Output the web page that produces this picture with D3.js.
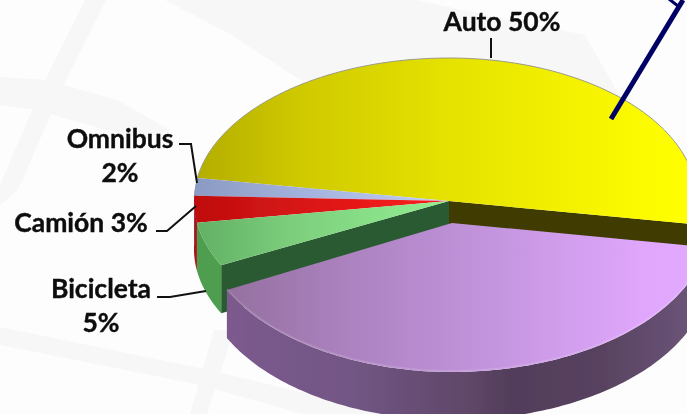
<!DOCTYPE html>
<html>
<head>
<meta charset="utf-8">
<script src="https://cdn.jsdelivr.net/npm/d3@7"></script>
<style>
  html, body { margin: 0; padding: 0; background: #fdfdfd; overflow: hidden; }
  svg { display: block; }
  text { font-family: Lato, "Open Sans", sans-serif; font-weight: 700; font-size: 26.5px; fill: #0a0a0a; stroke: #0a0a0a; stroke-width: 0.35px; }
</style>
</head>
<body>
<div id="plot"></div>
<script>
// values (the purple slice has no label in the crop)
var categories = ["Auto", "Camioneta", "Bicicleta", "Camión", "Omnibus"];
var shares = [50, 40, 5, 3, 2];
var labelLines = [["Auto 50%"], [], ["Bicicleta", "5%"], ["Camión 3%"], ["Omnibus", "2%"]];

var width = 687, height = 414;
var depth = 48;
var firstAngle = -80.7 * Math.PI / 180;

var svg = d3.select("div#plot")
  .append("svg")
    .attr("width", width)
    .attr("height", height);

var defs = svg.append("defs");

// the reference is a soft upscaled picture
defs.append("filter").attr("id", "soft")
  .attr("x", "-5%").attr("y", "-5%").attr("width", "110%").attr("height", "110%")
  .append("feGaussianBlur").attr("stdDeviation", 0.45);

// horizontal gradient helper, the pie is shaded left to right
function gradient(id, stops) {
  var g = defs.append("linearGradient")
    .attr("id", id)
    .attr("gradientUnits", "userSpaceOnUse")
    .attr("x1", 195).attr("y1", 0)
    .attr("x2", 690).attr("y2", 0);
  stops.forEach(function (s) {
    g.append("stop").attr("offset", (s[0] - 195) / 495).attr("stop-color", s[1]);
  });
  return "url(#" + id + ")";
}

var styles = {
  Auto: { top: gradient("autoTop", [[195, "#b3ad00"], [300, "#cfc900"], [450, "#e6e200"], [600, "#f7f500"], [680, "#ffff00"]]), cut: "#403a00" },
  Camioneta: {
    top: gradient("vanTop", [[225, "#94709f"], [350, "#ac82c0"], [500, "#c596e0"], [640, "#dfa6fb"], [690, "#e2aaff"]]),
    side: gradient("vanSide", [[225, "#7c5a8e"], [350, "#725685"], [470, "#5f4768"], [510, "#523d5a"], [600, "#58425f"], [690, "#6a5478"]])
  },
  Bicicleta: { top: gradient("bikeTop", [[195, "#62b064"], [300, "#7ed07e"], [450, "#92f092"]]), side: "#4f9e50", cut: "#2b5a30" },
  "Camión": { top: gradient("truckTop", [[195, "#bf0f0f"], [300, "#d81414"], [450, "#ff2020"]]), side: "#a81212" },
  Omnibus: { top: gradient("busTop", [[195, "#8b9ac2"], [300, "#a3b2dc"], [450, "#c0cef5"]]), side: "#8090b5" }
};

// the three front slices share the pie centre, the big purple one is pulled out
var mainShape = { cx: 449, cy: 201, rxLeft: 255, rxRight: 248, ryTop: 143, ryBottom: 143 };
var vanShape = { cx: 452, cy: 223, rxLeft: 252, rxRight: 258, ryTop: 143, ryBottom: 149 };

function project(a, shape) {
  var sx = Math.sin(a), cy = -Math.cos(a);
  return [shape.cx + sx * (sx < 0 ? shape.rxLeft : shape.rxRight),
          shape.cy + cy * (cy < 0 ? shape.ryTop : shape.ryBottom)];
}

function rim(d, shape, reverse, dy) {
  var n = Math.max(8, Math.ceil((d.endAngle - d.startAngle) * 60));
  var pts = d3.range(n + 1).map(function (i) {
    var p = project(d.startAngle + (d.endAngle - d.startAngle) * i / n, shape);
    return [p[0], p[1] + (dy || 0)];
  });
  return reverse ? pts.reverse() : pts;
}

var line = d3.line();
var closedLine = d3.line().curve(d3.curveLinearClosed);

function shapeOf(d) { return d.data.name === "Camioneta" ? vanShape : mainShape; }
function topPath(d) { var s = shapeOf(d); return closedLine([[s.cx, s.cy]].concat(rim(d, s))); }
function sidePath(d) { var s = shapeOf(d); return closedLine(rim(d, s).concat(rim(d, s, true, depth))); }

// watermark bands behind the chart
var bands = [
  [[85, 0], [106, 0], [65, 82], [18, 190], [0, 205], [0, 185], [45, 80]],
  [[0, 77], [47, 80], [117, 100], [170, 130], [145, 140], [100, 128], [35, 110], [0, 105]],
  [[165, 0], [415, 0], [585, 35], [625, 105], [300, 80], [230, 34]],
  [[0, 327], [210, 370], [300, 392], [420, 425], [340, 425], [200, 385], [0, 345]],
  [[214, 330], [234, 330], [207, 414], [190, 414]]
];
svg.append("g").attr("filter", "url(#soft)").selectAll("path")
  .data(bands)
  .enter()
  .append("path")
    .attr("d", function (d) { return closedLine(d); })
    .attr("fill", "#f7f7f7");

var pie = d3.pie().sort(null)
  .value(function (d) { return d.value; })
  .startAngle(firstAngle)
  .endAngle(firstAngle + 2 * Math.PI);

var slices = pie(categories.map(function (c, i) {
  return { name: c, value: shares[i], label: labelLines[i] };
}));
var byName = {};
slices.forEach(function (d) { byName[d.data.name] = d; });

var chart = svg.append("g").attr("filter", "url(#soft)");

// cut faces first: they sit behind the purple slice
function cutFace(angle, fill) {
  var p = project(angle, mainShape);
  chart.append("path")
    .attr("d", closedLine([[mainShape.cx, mainShape.cy], p, [p[0], p[1] + depth], [mainShape.cx, mainShape.cy + depth]]))
    .attr("fill", fill);
}
cutFace(byName.Auto.endAngle, styles.Auto.cut);
cutFace(byName.Bicicleta.startAngle, styles.Bicicleta.cut);

// sides of the small slices
["Omnibus", "Camión", "Bicicleta"].forEach(function (n) {
  chart.append("path").attr("d", sidePath(byName[n])).attr("fill", styles[n].side);
});

// tops of the back slices
["Auto", "Omnibus", "Camión", "Bicicleta"].forEach(function (n) {
  chart.append("path").attr("d", topPath(byName[n])).attr("fill", styles[n].top);
});
chart.append("path")
  .attr("d", line(rim(byName.Auto, mainShape)))
  .attr("fill", "none")
  .attr("stroke", "#9a9a84")
  .attr("stroke-width", 1);

// purple slice last, it is in front of everything
chart.append("path").attr("d", sidePath(byName.Camioneta)).attr("fill", styles.Camioneta.side);
chart.append("path").attr("d", topPath(byName.Camioneta)).attr("fill", styles.Camioneta.top);
chart.append("path")
  .attr("d", line(rim(byName.Camioneta, vanShape, false, -1)))
  .attr("fill", "none")
  .attr("stroke", "#ffffff")
  .attr("stroke-opacity", 0.13)
  .attr("stroke-width", 2);

// leader lines
var leaders = [
  [[491, 38], [491, 58]],
  [[179, 144], [191, 144], [197, 183]],
  [[156, 231], [167, 231], [196, 206]],
  [[157, 297], [170, 297], [206, 291]]
];
svg.append("g").selectAll("path")
  .data(leaders)
  .enter()
  .append("path")
    .attr("d", function (d) { return line(d); })
    .attr("fill", "none")
    .attr("stroke", "#111")
    .attr("stroke-width", 2);

// labels
var labelPos = {
  Auto: { x: 502, y: 31 },
  Bicicleta: { x: 101, y: 298 },
  "Camión": { x: 81, y: 232 },
  Omnibus: { x: 120, y: 148 }
};
var labels = svg.append("g").attr("text-anchor", "middle").attr("filter", "url(#soft)");
slices.forEach(function (d) {
  var pos = labelPos[d.data.name];
  if (!pos) return;
  d.data.label.forEach(function (t, i) {
    labels.append("text")
      .attr("x", pos.x)
      .attr("y", pos.y + i * 34)
      .text(t);
  });
});

// the arrow that runs out of the frame
var arrow = svg.append("g").attr("fill", "none").attr("stroke", "#000066");
arrow.append("path").attr("d", line([[611, 119], [683, 0]])).attr("stroke-width", 5);
arrow.append("path").attr("d", line([[669, -1], [678, 6]])).attr("stroke-width", 3);
</script>
</body>
</html>
